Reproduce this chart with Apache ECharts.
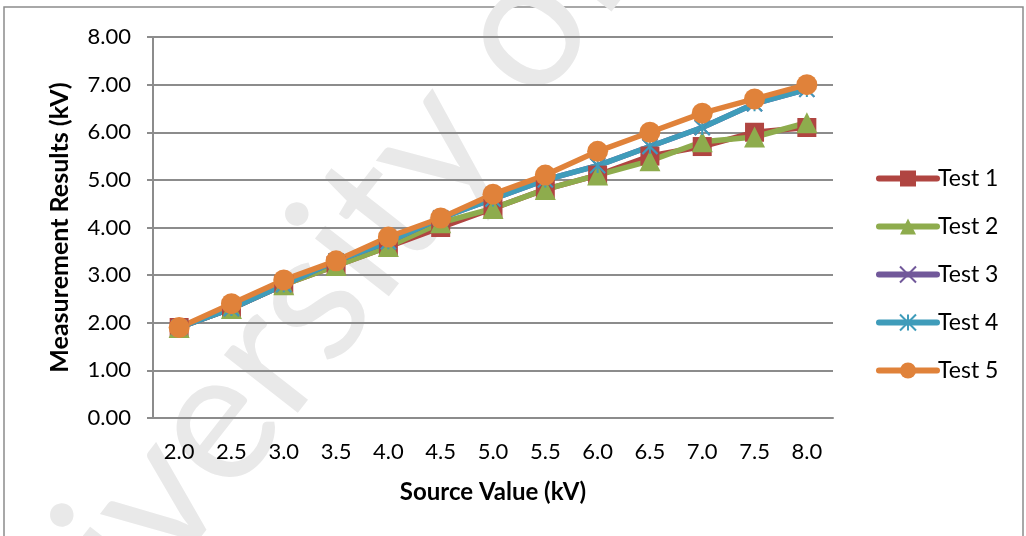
<!DOCTYPE html>
<html>
<head>
<meta charset="utf-8">
<script src="https://cdn.jsdelivr.net/npm/echarts@6/dist/echarts.min.js"></script>
<style>
  html, body { margin: 0; padding: 0; background: #fff; }
  #chart { width: 1026px; height: 536px; }
</style>
</head>
<body>
<div id="chart"></div>
<script>
// source values (kV)
var categories = ['2.0', '2.5', '3.0', '3.5', '4.0', '4.5', '5.0', '5.5', '6.0', '6.5', '7.0', '7.5', '8.0'];
var yTicks = [0, 1, 2, 3, 4, 5, 6, 7, 8];

// measurement results (kV)
var test1 = [1.9, 2.3, 2.8, 3.2, 3.6, 4.0, 4.4, 4.8, 5.1, 5.5, 5.7, 6.0, 6.1];
var test2 = [1.9, 2.3, 2.8, 3.2, 3.6, 4.1, 4.4, 4.8, 5.1, 5.4, 5.8, 5.9, 6.2];
var test3 = [1.9, 2.3, 2.8, 3.3, 3.7, 4.2, 4.6, 5.0, 5.3, 5.7, 6.1, 6.6, 6.9];
var test4 = [1.9, 2.3, 2.8, 3.3, 3.7, 4.2, 4.6, 5.0, 5.3, 5.7, 6.1, 6.6, 6.9];
var test5 = [1.9, 2.4, 2.9, 3.3, 3.8, 4.2, 4.7, 5.1, 5.6, 6.0, 6.4, 6.7, 7.0];

var font = 'Lato, "Open Sans", sans-serif';
var gridColor = '#8c8c8c';

var crossPath = 'path://M0,0L10,10M10,0L0,10';
var starPath = 'path://M5,0L5,10M0,0L10,10M10,0L0,10';

function lineSeries(name, data, color, symbol, size, stroked) {
  return {
    name: name,
    type: 'line',
    data: data,
    symbol: symbol,
    symbolSize: size,
    lineStyle: { color: color, width: 5.5 },
    itemStyle: stroked
      ? { color: 'transparent', borderColor: color, borderWidth: 2 }
      : { color: color },
    emphasis: { disabled: true }
  };
}

var chart = echarts.init(document.getElementById('chart'));

var option = {
  animation: false,
  backgroundColor: '#fff',
  textStyle: { fontFamily: font },
  graphic: [
    {
      type: 'rect',
      z: -10,
      shape: { x: 4, y: 7, width: 1019, height: 600 },
      style: { fill: 'none', stroke: '#8c8c8c', lineWidth: 1.5 }
    },
    {
      type: 'text',
      z: -5,
      x: 340,
      y: 262,
      rotation: 52 * Math.PI / 180,
      style: {
        text: 'University of M',
        font: '185px ' + font,
        fill: '#e9e9e9',
        align: 'center',
        verticalAlign: 'middle'
      }
    }
  ],
  grid: { left: 153, right: 193, top: 37, bottom: 118 },
  legend: {
    orient: 'vertical',
    left: 871,
    top: 162,
    itemWidth: 58,
    itemHeight: 20,
    itemGap: 25,
    lineStyle: { width: 6, cap: 'round' },
    textStyle: { fontSize: 23, color: '#000', fontFamily: font, padding: [0, 0, 0, -4] },
    data: ['Test 1', 'Test 2', 'Test 3', 'Test 4', 'Test 5']
  },
  xAxis: {
    type: 'category',
    data: categories,
    boundaryGap: true,
    name: 'Source Value (kV)',
    nameLocation: 'middle',
    nameGap: 62,
    nameTextStyle: { fontSize: 24, fontWeight: 'bold', color: '#000' },
    axisLine: { lineStyle: { color: gridColor, width: 2 } },
    axisTick: { show: false },
    axisLabel: { fontSize: 22, color: '#000', margin: 23, interval: 0 }
  },
  yAxis: {
    type: 'value',
    min: yTicks[0],
    max: yTicks[yTicks.length - 1],
    interval: 1,
    name: 'Measurement Results (kV)',
    nameLocation: 'middle',
    nameRotate: 90,
    nameGap: 81,
    nameTextStyle: { fontSize: 25, fontWeight: 'bold', color: '#000' },
    axisLine: { show: true, lineStyle: { color: gridColor, width: 2 } },
    axisTick: { show: true, length: 6, lineStyle: { color: gridColor, width: 2 } },
    axisLabel: {
      fontSize: 22, color: '#000', margin: 22,
      formatter: function (v) { return v.toFixed(2); }
    },
    splitLine: { show: true, lineStyle: { color: gridColor, width: 2 } }
  },
  series: [
    lineSeries('Test 1', test1, '#B04541', 'rect', 19, false),
    lineSeries('Test 2', test2, '#8EAC4D', 'triangle', 21, false),
    lineSeries('Test 3', test3, '#71589A', crossPath, 15, true),
    lineSeries('Test 4', test4, '#3F9CBA', starPath, 15, true),
    lineSeries('Test 5', test5, '#E0823A', 'circle', 21, false)
  ]
};

chart.setOption(option);
</script>
</body>
</html>
